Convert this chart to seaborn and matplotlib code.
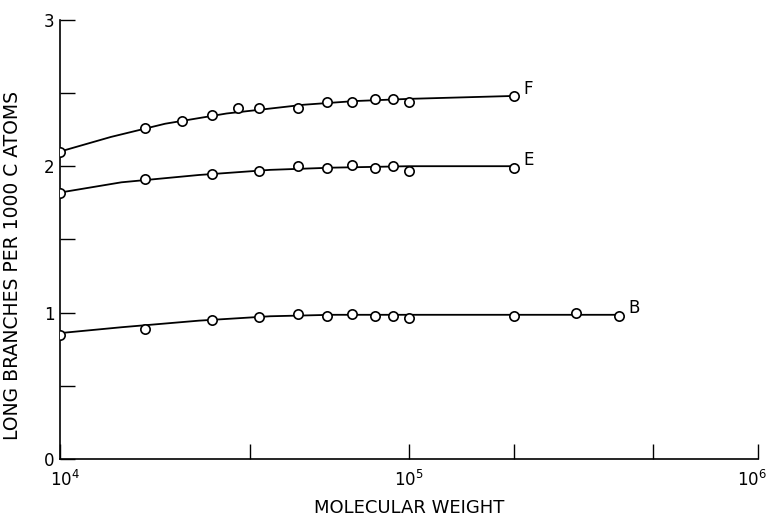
import numpy as np
import pandas as pd
import matplotlib
matplotlib.use("Agg")
import matplotlib.pyplot as plt
import matplotlib.transforms as mtransforms
import seaborn as sns

# =====================================================
# DATA
# =====================================================

mw_F = [1.0e4, 1.75e4, 2.24e4, 2.72e4, 3.23e4, 3.71e4, 4.8e4, 5.8e4, 6.85e4, 8.0e4, 9.0e4, 1.0e5, 2.0e5]
lcb_F = [2.10, 2.26, 2.31, 2.35, 2.40, 2.40, 2.40, 2.44, 2.44, 2.46, 2.46, 2.44, 2.48]

mw_E = [1.0e4, 1.75e4, 2.72e4, 3.71e4, 4.8e4, 5.8e4, 6.85e4, 8.0e4, 9.0e4, 1.0e5, 2.0e5]
lcb_E = [1.82, 1.91, 1.95, 1.97, 2.00, 1.99, 2.01, 1.99, 2.00, 1.97, 1.99]

mw_B = [1.0e4, 1.75e4, 2.72e4, 3.71e4, 4.8e4, 5.8e4, 6.85e4, 8.0e4, 9.0e4, 1.0e5, 2.0e5, 3.0e5, 4.0e5]
lcb_B = [0.85, 0.89, 0.95, 0.97, 0.99, 0.98, 0.99, 0.98, 0.98, 0.96, 0.98, 1.00, 0.98]

# hand-drawn smooth curves through the points
curve_mw_F = [1.0e4, 1.4e4, 2.0e4, 3.0e4, 5.0e4, 7.0e4, 1.0e5, 2.0e5]
curve_F = [2.10, 2.20, 2.29, 2.36, 2.42, 2.445, 2.46, 2.48]

curve_mw_E = [1.0e4, 1.5e4, 2.5e4, 4.0e4, 6.0e4, 1.0e5, 2.0e5]
curve_E = [1.82, 1.89, 1.94, 1.975, 1.99, 2.00, 2.00]

curve_mw_B = [1.0e4, 1.5e4, 2.5e4, 4.0e4, 6.0e4, 1.0e5, 2.0e5, 4.0e5]
curve_B = [0.86, 0.90, 0.945, 0.975, 0.985, 0.985, 0.985, 0.985]

labels = ["F", "E", "B"]

# =====================================================
# PLOT
# =====================================================

sns.set_style("ticks")
plt.rcParams["font.family"] = ["DejaVu Sans"]
plt.rcParams["text.color"] = "black"
plt.rcParams["axes.labelcolor"] = "black"
plt.rcParams["xtick.color"] = "black"
plt.rcParams["ytick.color"] = "black"

fig = plt.figure(figsize=(7.69, 5.21), dpi=100)
ax = fig.add_axes([0.078, 0.119, 0.908, 0.843])

series = [
    (mw_F, lcb_F, curve_mw_F, curve_F),
    (mw_E, lcb_E, curve_mw_E, curve_E),
    (mw_B, lcb_B, curve_mw_B, curve_B),
]

for (mx, my, cx, cy), lab in zip(series, labels):
    sns.lineplot(x=cx, y=cy, ax=ax, color="black", linewidth=1.3, zorder=2)
    sns.scatterplot(x=mx, y=my, ax=ax, marker="o", s=45,
                    facecolor="white", edgecolor="black", linewidth=1.2, zorder=3)
    ax.text(mx[-1] * 1.06, my[-1] + 0.05, lab, fontsize=12,
            ha="left", va="center", color="black")

ax.set_xscale("log")
ax.set_xlim(1e4, 1e6)
ax.set_ylim(0, 3)

ax.set_xticks([1e4, 1e5, 1e6])
ax.set_xticklabels(["$10^4$", "$10^5$", "$10^6$"])
ax.set_xticks([3.5e4, 2e5, 5e5], minor=True)
ax.set_yticks([0, 1, 2, 3])
ax.set_yticklabels(["0", "1", "2", "3"])
ax.set_yticks([0.5, 1.5, 2.5], minor=True)

ax.tick_params(axis="both", which="both", direction="in", length=11,
               width=1.0, color="black", labelcolor="black", labelsize=12)
ax.tick_params(axis="x", which="major", pad=8)
ax.tick_params(axis="y", which="major", pad=4)

# shift first / last x tick labels like the reference
xlabs = ax.get_xticklabels()
xlabs[0].set_transform(xlabs[0].get_transform() +
                       mtransforms.ScaledTranslation(5 / 100, 0, fig.dpi_scale_trans))
xlabs[-1].set_transform(xlabs[-1].get_transform() +
                        mtransforms.ScaledTranslation(-6 / 100, 0, fig.dpi_scale_trans))

sns.despine(ax=ax)
for sp in ["left", "bottom"]:
    ax.spines[sp].set_linewidth(1.2)
    ax.spines[sp].set_color("black")

ax.set_xlabel("MOLECULAR WEIGHT", fontsize=13, labelpad=6, color="black")
ax.set_ylabel("LONG BRANCHES PER 1000 C ATOMS", fontsize=13.5, labelpad=8, color="black")
ax.yaxis.set_label_coords(-0.054, 0.44)

fig.savefig("out.png", dpi=100)
